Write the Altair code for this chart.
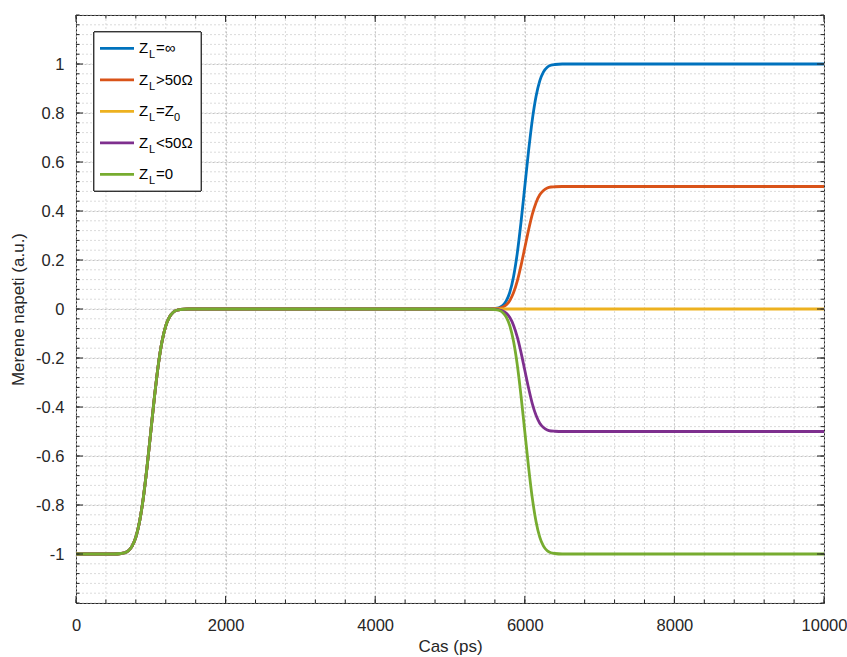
import altair as alt
import numpy as np
import pandas as pd

# Sample times (ps)
time_ps = [0, 500, 600, 650, 700, 750, 800, 850, 900, 950, 1000, 1050, 1100,
           1150, 1200, 1250, 1300, 1350, 1400, 1500, 2000, 3000, 4000, 5000,
           5500, 5600, 5650, 5700, 5750, 5800, 5850, 5900, 5950, 6000, 6050,
           6100, 6150, 6200, 6250, 6300, 6350, 6400, 6500, 7000, 8000, 9000,
           10000]

# Incident edge, common to every load (0 ... 5500 ps)
lead_in = [-1, -1, -0.998, -0.995, -0.987, -0.968, -0.931, -0.867, -0.771,
           -0.644, -0.5, -0.356, -0.229, -0.133, -0.069, -0.032, -0.013,
           -0.005, -0.002, 0, 0, 0, 0, 0, 0]

# Reflected edge for each load (5600 ... 10000 ps)
tail_open = [0.002, 0.005, 0.013, 0.032, 0.069, 0.133, 0.229, 0.356, 0.5,
             0.644, 0.771, 0.867, 0.931, 0.968, 0.987, 0.995, 0.998,
             1, 1, 1, 1, 1]
tail_high = [0.001, 0.003, 0.007, 0.016, 0.035, 0.067, 0.115, 0.178, 0.25,
             0.322, 0.386, 0.434, 0.466, 0.484, 0.494, 0.498, 0.499,
             0.5, 0.5, 0.5, 0.5, 0.5]
tail_matched = [0, 0, 0, 0, 0, 0, 0, 0, 0, 0, 0, 0, 0, 0, 0, 0, 0,
                0, 0, 0, 0, 0]
tail_low = [-0.001, -0.003, -0.007, -0.016, -0.035, -0.067, -0.115, -0.178,
            -0.25, -0.322, -0.386, -0.434, -0.466, -0.484, -0.494, -0.498,
            -0.499, -0.5, -0.5, -0.5, -0.5, -0.5]
tail_short = [-0.002, -0.005, -0.013, -0.032, -0.069, -0.133, -0.229, -0.356,
              -0.5, -0.644, -0.771, -0.867, -0.931, -0.968, -0.987, -0.995,
              -0.998, -1, -1, -1, -1, -1]

series_keys = ["open", "high", "matched", "low", "short"]
series_tails = [tail_open, tail_high, tail_matched, tail_low, tail_short]
series_colors = ["#0072BD", "#D95319", "#EDB120", "#7E2F8E", "#77AC30"]
legend_rest = ["=\u221e", ">50\u03a9", "=Z", "<50\u03a9", "=0"]
legend_sub2 = ["", "", "0", "", ""]

major_x = [0, 2000, 4000, 6000, 8000, 10000]
major_y = [-1, -0.8, -0.6, -0.4, -0.2, 0, 0.2, 0.4, 0.6, 0.8, 1]

W, H = 748, 588
FONT = "Liberation Sans"
INK = "#262626"

minor_x = np.arange(0, 10001, 400)
minor_y = np.round(np.arange(-1.2, 1.2001, 0.04), 2)

xscale = alt.Scale(domain=[0, 10000], nice=False, zero=False)
yscale = alt.Scale(domain=[-1.2, 1.2], nice=False, zero=False)

xaxis = alt.Axis(values=major_x, format="d", title="Cas (ps)", grid=True,
                 gridColor="#b5b5b5", gridDash=[2, 2], gridWidth=0.8,
                 ticks=False, domain=False, labelFont=FONT, labelFontSize=16.5,
                 labelColor=INK, labelPadding=14, labelFlush=False,
                 labelOverlap=False, labelBound=False,
                 titleFont=FONT, titleFontSize=17, titleFontWeight="normal",
                 titleColor=INK, titlePadding=5)
yaxis = alt.Axis(values=major_y, labelExpr="'' + round(datum.value * 10) / 10",
                 title="Merene napeti (a.u.)", grid=True,
                 gridColor="#b5b5b5", gridDash=[2, 2], gridWidth=0.8,
                 ticks=False, domain=False, labelFont=FONT, labelFontSize=16.5,
                 labelColor=INK, labelPadding=12, labelOverlap=False,
                 labelBound=False,
                 titleFont=FONT, titleFontSize=17, titleFontWeight="normal",
                 titleColor=INK, titlePadding=8)

X = alt.X("t:Q", scale=xscale, axis=xaxis)
Y = alt.Y("v:Q", scale=yscale, axis=yaxis)

# Minor grid
mgx = alt.Chart(pd.DataFrame({"t": minor_x})).mark_rule(
    color="#cccccc", strokeDash=[2, 2], strokeWidth=0.7).encode(x=X)
mgy = alt.Chart(pd.DataFrame({"v": minor_y})).mark_rule(
    color="#cccccc", strokeDash=[2, 2], strokeWidth=0.7).encode(y=Y)

layers = [mgx, mgy]

# Waveforms
for key, tail, col in zip(series_keys, series_tails, series_colors):
    df = pd.DataFrame({"t": time_ps, "v": lead_in + tail})
    layers.append(
        alt.Chart(df).mark_line(color=col, strokeWidth=2.8,
                                interpolate="monotone", clip=True)
        .encode(x=X, y=Y)
    )

# Inward ticks on all four sides
def xticks(vals, length):
    d = pd.DataFrame({"t": vals})
    bot = alt.Chart(d).mark_rule(color=INK, strokeWidth=1).encode(
        x=X, y=alt.value(H), y2=alt.value(H - length))
    top = alt.Chart(d).mark_rule(color=INK, strokeWidth=1).encode(
        x=X, y=alt.value(0), y2=alt.value(length))
    return [bot, top]


def yticks(vals, length):
    d = pd.DataFrame({"v": vals})
    lft = alt.Chart(d).mark_rule(color=INK, strokeWidth=1).encode(
        y=Y, x=alt.value(0), x2=alt.value(length))
    rgt = alt.Chart(d).mark_rule(color=INK, strokeWidth=1).encode(
        y=Y, x=alt.value(W), x2=alt.value(W - length))
    return [lft, rgt]


layers += xticks(major_x, 7) + xticks(minor_x, 3.5)
layers += yticks(major_y, 7) + yticks(minor_y, 3.5)

# Legend box
leg = pd.DataFrame({
    "i": list(range(5)),
    "col": series_colors,
    "pre": ["Z"] * 5,
    "sub": ["L"] * 5,
    "rest": legend_rest,
    "sub2": legend_sub2,
})
leg["py"] = 33.3 + 31.5 * leg["i"]
LY = alt.Y("py:Q", scale=None, axis=None)

box = alt.Chart(leg).mark_rect(fill="white", stroke=INK, strokeWidth=0.8).encode(
    x=alt.value(18), x2=alt.value(125), y=alt.value(17), y2=alt.value(176))
samples = alt.Chart(leg).mark_rule(strokeWidth=2.8).encode(
    x=alt.value(24), x2=alt.value(58), y=LY,
    color=alt.Color("col:N", scale=None))
t_pre = alt.Chart(leg).mark_text(align="left", baseline="middle", font=FONT,
                                 fontSize=15, color="#000000").encode(
    x=alt.value(63), y=LY, text="pre:N")
t_sub = alt.Chart(leg).mark_text(align="left", baseline="middle", font=FONT,
                                 fontSize=11, dy=7, color="#000000").encode(
    x=alt.value(73), y=LY, text="sub:N")
t_rest = alt.Chart(leg).mark_text(align="left", baseline="middle", font=FONT,
                                  fontSize=15, color="#000000").encode(
    x=alt.value(80), y=LY, text="rest:N")
t_sub2 = alt.Chart(leg).mark_text(align="left", baseline="middle", font=FONT,
                                  fontSize=11, dy=7, color="#000000").encode(
    x=alt.value(98), y=LY, text="sub2:N")

layers += [box, samples, t_pre, t_sub, t_rest, t_sub2]

chart = alt.layer(*layers).properties(
    width=W, height=H,
    autosize=alt.AutoSizeParams(type="none"),
    padding={"left": 76, "top": 15, "right": 23, "bottom": 54},
    background="white",
).configure_view(stroke=INK, strokeWidth=1)

chart.save("out.html", embed_options={"renderer": "svg", "actions": False})
